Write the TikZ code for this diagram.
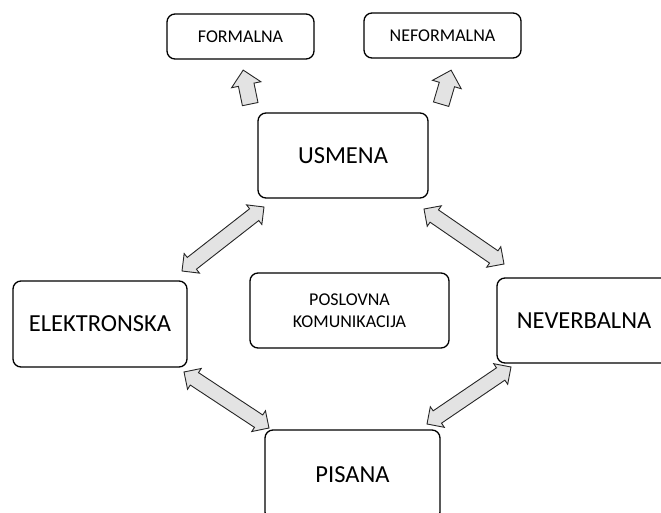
\documentclass[tikz,border=0pt]{standalone}
\usepackage{fontspec}
\setmainfont{Carlito}
\usetikzlibrary{shapes.arrows,calc}

\begin{document}
\begin{tikzpicture}[x=1pt,y=-1pt,
  box/.style={draw,line width=1.3pt,rounded corners=8pt,align=center,inner sep=0pt},
  big/.style={box,font=\fontsize{24.5}{29}\selectfont},
  small/.style={box,font=\fontsize{18}{22}\selectfont},
  dblarrow/.style={double arrow,draw=black!85,fill=gray!22,line width=0.9pt,
    inner sep=7pt,minimum width=0pt,double arrow head extend=5pt},
  uparrow/.style={single arrow,draw=black!85,fill=gray!22,line width=0.9pt,
    inner sep=7.5pt,minimum width=0pt,single arrow head extend=7pt}]
\useasboundingbox (0,0) rectangle (661,513);
\clip (0,0) rectangle (661,513);

\node[small,minimum width=147,minimum height=45] (formalna) at (240.5,36.5) {FORMALNA};
\node[small,minimum width=157,minimum height=45] (neformalna) at (442.5,35.5) {NEFORMALNA};

\node[big,minimum width=170,minimum height=85] (usmena) at (343,155.5) {USMENA};
\node[small,minimum width=199,minimum height=75] (poslovna) at (349.5,310.5) {POSLOVNA\\KOMUNIKACIJA};
\node[big,minimum width=174,minimum height=86] (elektronska) at (100,324) {ELEKTRONSKA};
\node[big,minimum width=174,minimum height=85] (neverbalna) at (584,320.5) {NEVERBALNA};
\node[big,minimum width=175,minimum height=90] (pisana) at (352.5,475) {PISANA};

% arrow ends
\coordinate (f1) at (251,108);
\coordinate (f2) at (244,74);
\coordinate (n1) at (440,108);
\coordinate (n2) at (450,74);

\coordinate (ue1) at (182,271);
\coordinate (ue2) at (264,207);
\coordinate (un1) at (424,209);
\coordinate (un2) at (504,264);
\coordinate (ep1) at (184,372);
\coordinate (ep2) at (269,428);
\coordinate (np1) at (427,424);
\coordinate (np2) at (511,367);

\foreach \a/\b in {f1/f2,n1/n2}
\path let \p1=($(\b)-(\a)$), \n1={veclen(\x1,\y1)}, \n2={atan2(\y1,\x1)} in
  node[uparrow,minimum height=\n1,rotate=\n2] at ($(\a)!.5!(\b)$) {};

\foreach \a/\b in {ue1/ue2,un1/un2,ep1/ep2,np1/np2}
\path let \p1=($(\b)-(\a)$), \n1={veclen(\x1,\y1)}, \n2={atan2(\y1,\x1)} in
  node[dblarrow,minimum height=\n1,rotate=\n2] at ($(\a)!.5!(\b)$) {};

\end{tikzpicture}
\end{document}
